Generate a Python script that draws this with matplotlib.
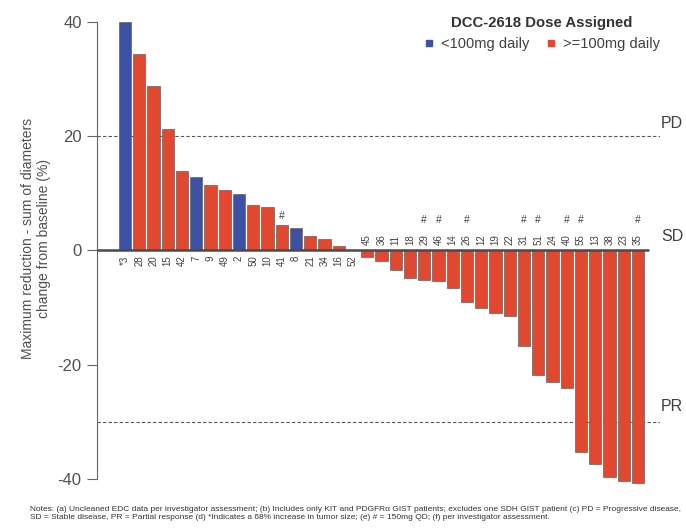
import matplotlib.pyplot as plt
from matplotlib.lines import Line2D
import numpy as np

plt.rcParams['font.family'] = ['Liberation Sans', 'DejaVu Sans']
plt.rcParams['axes.unicode_minus'] = False

# patient ids in waterfall order, best % change in sum of diameters
patients = ['3', '28', '20', '15', '42', '7', '9', '49', '2', '50', '10', '41', '8',
            '21', '34', '16', '52', '45', '36', '11', '18', '29', '46', '14', '26',
            '12', '19', '22', '31', '51', '24', '40', '55', '13', '38', '23', '35']
change = [40.0, 34.4, 28.8, 21.3, 13.9, 12.9, 11.5, 10.6, 9.8, 7.9, 7.6, 4.5, 3.9,
          2.6, 2.0, 0.8, 0.0, -1.2, -1.8, -3.5, -4.9, -5.2, -5.3, -6.5, -9.1,
          -10.0, -11.0, -11.4, -16.8, -21.8, -23.0, -24.0, -35.3, -37.4, -39.6, -40.3, -40.7]
low_dose = ['3', '7', '2', '8']            # <100mg daily
qd150 = ['41', '29', '46', '26', '31', '51', '40', '55', '35']   # '#' = 150mg QD
starred = ['3']                            # 68% increase, bar capped at 40

BLUE = '#3c51a3'
RED = '#e2472f'

x = np.arange(len(patients))
colors = [BLUE if p in low_dose else RED for p in patients]

fig = plt.figure(figsize=(6.86, 5.32), dpi=100)
ax = fig.add_axes([0.1414, 0.0782, 0.8207, 0.8966])

ax.bar(x, change, width=0.86, color=colors, edgecolor='#6b5e58', linewidth=0.5, zorder=2)

ax.set_xlim(-1.96, 37.54)
ax.set_ylim(-42, 41.5)

# reference lines for progressive disease / partial response
ax.axhline(20, color='#555555', lw=0.8, ls=(0, (3, 2)), zorder=1)
ax.axhline(-30, color='#555555', lw=0.8, ls=(0, (3, 2)), zorder=1)
ax.plot([-1.96, 36.8], [0, 0], color='#4a4a4a', lw=1.8, zorder=3, solid_capstyle='butt')

ax.text(37.6, 21, 'PD', fontsize=11.5, color='#404040', ha='left', va='bottom')
ax.text(37.6, 1.2, 'SD', fontsize=11.5, color='#404040', ha='left', va='bottom')
ax.text(37.6, -28.6, 'PR', fontsize=11.5, color='#404040', ha='left', va='bottom')

# patient labels: below the baseline for growth, above it for shrinkage
for xi, p, v in zip(x, patients, change):
    lab = ('*' + p) if p in starred else p
    if v >= 0:
        ax.text(xi, -0.9, lab, rotation=90, fontsize=7, color='#404040',
                ha='center', va='top')
        if p in qd150:
            ax.text(xi, v + 0.6, '#', fontsize=7.5, color='#404040', ha='center', va='bottom')
    else:
        ax.text(xi, 0.9, lab, rotation=90, fontsize=7, color='#404040',
                ha='center', va='bottom')
        if p in qd150:
            ax.text(xi, 4.5, '#', fontsize=7.5, color='#404040', ha='center', va='bottom')

for s in ['top', 'right', 'bottom']:
    ax.spines[s].set_visible(False)
ax.spines['left'].set_bounds(-40, 40)
ax.spines['left'].set_color('#666666')
ax.set_xticks([])
ax.set_yticks([-40, -20, 0, 20, 40])
ax.tick_params(axis='y', length=7, color='#666666', labelsize=12,
               labelcolor='#505050', pad=4)

fig.text(36 / 686, 1 - 238 / 532,
         'Maximum reduction - sum of diameters\nchange from baseline (%)',
         rotation=90, fontsize=10, color='#505050', ha='center', va='center',
         linespacing=1.15)

handles = [Line2D([], [], marker='s', ls='', color=BLUE, markersize=4),
           Line2D([], [], marker='s', ls='', color=RED, markersize=4)]
leg = fig.legend(handles, ['<100mg daily', '>=100mg daily'], ncol=2, frameon=False,
                 title='DCC-2618 Dose Assigned', fontsize=10.5, handlelength=0.8,
                 handletextpad=0.4, columnspacing=1.1, loc='upper right',
                 bbox_to_anchor=(660 / 686, 1 - 16 / 532), borderaxespad=0, borderpad=0,
                 labelcolor='#404040')
leg.get_title().set_fontweight('bold')
leg.get_title().set_fontsize(10.7)
leg.get_title().set_color('#333333')

notes = ('Notes: (a) Uncleaned EDC data per investigator assessment; (b) Includes only KIT and '
         'PDGFR\u03b1 GIST patients; excludes one SDH GIST patient (c) PD = Progressive disease,\n'
         'SD = Stable disease, PR = Partial response (d) *Indicates a 68% increase in tumor size; '
         '(e) # = 150mg QD; (f) per investigator assessment.')
fig.text(0.044, 1 - 506 / 532, notes, fontsize=6.0, color='#333333', ha='left', va='top',
         linespacing=1.25)

fig.savefig('out.png', dpi=100)
